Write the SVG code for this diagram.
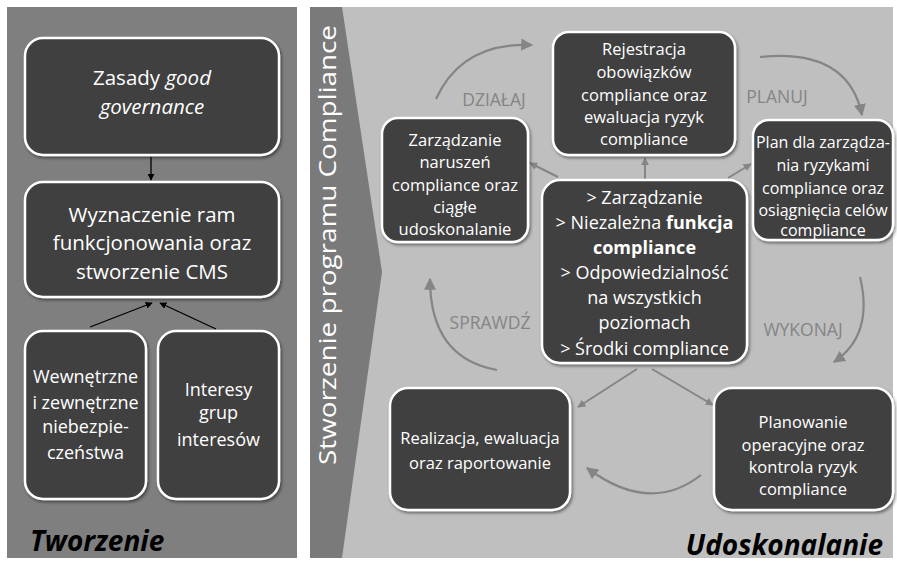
<svg xmlns="http://www.w3.org/2000/svg" width="897" height="565" viewBox="0 0 897 565">
<defs>
<style>
.node{fill:#404040;stroke:#ffffff;stroke-width:2.5;filter:url(#sh)}
.t{font-family:"Open Sans","Noto Sans",sans-serif;fill:#ffffff;text-anchor:middle}
.lbl{font-family:"Open Sans","Noto Sans",sans-serif;fill:#858585;font-size:17.5px;text-anchor:middle}
.blk{stroke:#000;stroke-width:1.3;fill:none;marker-end:url(#ab)}
.gr{stroke:#858585;stroke-width:2;fill:none;marker-end:url(#ag)}
.grc{stroke:#858585;stroke-width:2.2;fill:none;marker-end:url(#ag2)}
</style>
<filter id="sh" x="-10%" y="-10%" width="130%" height="130%">
<feDropShadow dx="1.5" dy="2" stdDeviation="1.5" flood-color="#000" flood-opacity="0.45"/>
</filter>
<marker id="ab" viewBox="0 0 10 10" refX="9" refY="5" markerWidth="7" markerHeight="7" orient="auto" markerUnits="userSpaceOnUse"><path d="M0,0 L10,5 L0,10 z" fill="#000"/></marker>
<marker id="ag" viewBox="0 0 10 10" refX="9" refY="5" markerWidth="8" markerHeight="8" orient="auto" markerUnits="userSpaceOnUse"><path d="M0,0 L10,5 L0,10 z" fill="#858585"/></marker>
<marker id="ag2" viewBox="0 0 10 10" refX="9" refY="5" markerWidth="12" markerHeight="12" orient="auto" markerUnits="userSpaceOnUse"><path d="M0,0 L10,5 L0,10 z" fill="#858585"/></marker>
</defs>
<rect width="897" height="565" fill="#ffffff"/>
<rect x="7" y="7" width="290" height="551" fill="#7f7f7f"/>
<rect x="310" y="7" width="583" height="551" fill="#bfbfbf"/>
<polygon points="310,7 342,7 382,272 342,558 310,558" fill="#7a7a7a"/>
<text class="t" transform="translate(336,245) rotate(-90)" font-size="23" fill="#eeeeee" textLength="440" lengthAdjust="spacingAndGlyphs">Stworzenie programu Compliance</text>

<g id="connectors">
<line class="blk" x1="151" y1="157" x2="151" y2="180"/>
<line class="blk" x1="90" y1="327" x2="152" y2="303"/>
<line class="blk" x1="216" y1="329" x2="160" y2="303"/>
<line class="gr" x1="645" y1="180" x2="645" y2="158"/>
<line class="gr" x1="558" y1="177" x2="530" y2="163"/>
<line class="gr" x1="728" y1="178" x2="751" y2="164"/>
<line class="gr" x1="637" y1="369" x2="578" y2="407"/>
<line class="gr" x1="652" y1="369" x2="713" y2="405"/>
<path class="grc" d="M436,99 Q462,42 532,45"/>
<path class="grc" d="M760,57 Q848,48 862,115"/>
<path class="grc" d="M860,277 Q874,335 834,362"/>
<path class="grc" d="M701,475 Q650,515 587,468"/>
<path class="grc" d="M497,370 Q430,358 430,279"/>
<text class="lbl" x="494" y="106">DZIAŁAJ</text>
<text class="lbl" x="777" y="103">PLANUJ</text>
<text class="lbl" x="803" y="336">WYKONAJ</text>
<text class="lbl" x="490" y="329">SPRAWDŹ</text>
</g>

<g id="n-zasady">
<rect class="node" x="25" y="38" width="254" height="117" rx="18"/>
<text class="t" font-size="20.5" x="152" y="85">Zasady <tspan font-style="italic">good</tspan></text>
<text class="t" font-size="20.5" x="152" y="114" font-style="italic">governance</text>
</g>
<g id="n-wyznaczenie">
<rect class="node" x="25" y="182" width="254" height="115" rx="18"/>
<text class="t" font-size="20.5" x="152" y="222">Wyznaczenie ram</text>
<text class="t" font-size="20.5" x="152" y="250">funkcjonowania oraz</text>
<text class="t" font-size="20.5" x="152" y="279">stworzenie CMS</text>
</g>
<g id="n-wewnetrzne">
<rect class="node" x="25" y="331" width="121" height="168" rx="18"/>
<text class="t" font-size="18" x="85.5" y="383">Wewnętrzne</text>
<text class="t" font-size="18" x="85.5" y="409">i zewnętrzne</text>
<text class="t" font-size="18" x="85.5" y="433">niebezpie-</text>
<text class="t" font-size="18" x="85.5" y="459">czeństwa</text>
</g>
<g id="n-interesy">
<rect class="node" x="158" y="331" width="121" height="168" rx="18"/>
<text class="t" font-size="18" x="218.5" y="396">Interesy</text>
<text class="t" font-size="18" x="218.5" y="419">grup</text>
<text class="t" font-size="18" x="218.5" y="446">interesów</text>
</g>
<text x="30" y="551" font-family="'Open Sans','Noto Sans',sans-serif" font-size="28" font-weight="bold" font-style="italic" fill="#000">Tworzenie</text>

<g id="n-rejestracja">
<rect class="node" x="553" y="32" width="182" height="123" rx="16"/>
<text class="t" font-size="16.5" x="644" y="55">Rejestracja</text>
<text class="t" font-size="16.5" x="644" y="78">obowiązków</text>
<text class="t" font-size="16.5" x="644" y="101">compliance oraz</text>
<text class="t" font-size="16.5" x="644" y="123">ewaluacja ryzyk</text>
<text class="t" font-size="16.5" x="644" y="145">compliance</text>
</g>
<g id="n-plan">
<rect class="node" x="753" y="120" width="140" height="120" rx="16"/>
<text class="t" font-size="16" x="823" y="148">Plan dla zarządza-</text>
<text class="t" font-size="16" x="823" y="171">nia ryzykami</text>
<text class="t" font-size="16" x="823" y="194">compliance oraz</text>
<text class="t" font-size="16" x="823" y="216">osiągnięcia celów</text>
<text class="t" font-size="16" x="823" y="236">compliance</text>
</g>
<g id="n-zarzadzanie">
<rect class="node" x="382" y="118" width="146" height="124" rx="16"/>
<text class="t" font-size="16.5" x="455" y="146">Zarządzanie</text>
<text class="t" font-size="16.5" x="455" y="168">naruszeń</text>
<text class="t" font-size="16.5" x="455" y="191">compliance oraz</text>
<text class="t" font-size="16.5" x="455" y="213">ciągłe</text>
<text class="t" font-size="16.5" x="455" y="235">udoskonalanie</text>
</g>
<g id="n-centrum">
<rect class="node" x="542" y="180" width="205" height="183" rx="18"/>
<text class="t" font-size="18" x="644.5" y="204">&gt; Zarządzanie</text>
<text class="t" font-size="18" x="644.5" y="229">&gt; Niezależna <tspan font-weight="bold">funkcja</tspan></text>
<text class="t" font-size="18" x="644.5" y="254" font-weight="bold">compliance</text>
<text class="t" font-size="18" x="644.5" y="279">&gt; Odpowiedzialność</text>
<text class="t" font-size="18" x="644.5" y="304">na wszystkich</text>
<text class="t" font-size="18" x="644.5" y="329">poziomach</text>
<text class="t" font-size="18" x="644.5" y="355">&gt; Środki compliance</text>
</g>
<g id="n-realizacja">
<rect class="node" x="390" y="388" width="180" height="122" rx="18"/>
<text class="t" font-size="16.5" x="480" y="444">Realizacja, ewaluacja</text>
<text class="t" font-size="16.5" x="480" y="469">oraz raportowanie</text>
</g>
<g id="n-planowanie">
<rect class="node" x="714" y="388" width="179" height="122" rx="18"/>
<text class="t" font-size="16.5" x="803" y="428">Planowanie</text>
<text class="t" font-size="16.5" x="803" y="451">operacyjne oraz</text>
<text class="t" font-size="16.5" x="803" y="473">kontrola ryzyk</text>
<text class="t" font-size="16.5" x="803" y="495">compliance</text>
</g>
<text x="883" y="555" text-anchor="end" font-family="'Open Sans','Noto Sans',sans-serif" font-size="28" font-weight="bold" font-style="italic" fill="#000">Udoskonalanie</text>
</svg>
